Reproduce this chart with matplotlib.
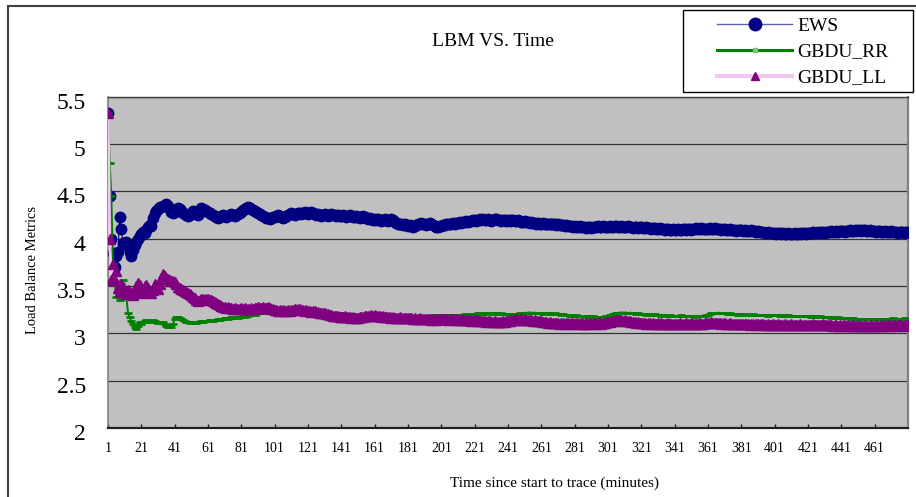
import matplotlib
matplotlib.use("Agg")
import matplotlib.pyplot as plt
from matplotlib.lines import Line2D
from matplotlib.patches import Rectangle
import matplotlib.transforms as mtransforms
import numpy as np

plt.rcParams['font.family'] = ['Liberation Serif', 'DejaVu Serif']

title = "LBM VS. Time"
x_label = "Time since start to trace (minutes)"
y_label = "Load Balance Metrics"
series_names = ["EWS", "GBDU_RR", "GBDU_LL"]
x_tick_labels = list(range(1, 481, 20))
y_ticks = [2, 2.5, 3, 3.5, 4, 4.5, 5, 5.5]
y_tick_labels = ["2", "2.5", "3", "3.5", "4", "4.5", "5", "5.5"]

ews = [
    5.33, 4.45, 4.00, 3.85, 3.70, 3.82, 3.86, 4.23, 4.10, 3.95, 3.95, 3.97, 3.92, 3.86, 3.82, 3.88, 3.93, 3.97, 4.00, 4.03,
    4.05, 4.07, 4.06, 4.09, 4.12, 4.14, 4.13, 4.22, 4.27, 4.29, 4.31, 4.33, 4.34, 4.35, 4.36, 4.37, 4.35, 4.31, 4.28, 4.27,
    4.28, 4.30, 4.32, 4.31, 4.29, 4.27, 4.26, 4.25, 4.24, 4.25, 4.27, 4.29, 4.28, 4.26, 4.25, 4.29, 4.32, 4.31, 4.30, 4.29,
    4.28, 4.27, 4.26, 4.25, 4.24, 4.23, 4.22, 4.23, 4.24, 4.25, 4.24, 4.23, 4.24, 4.25, 4.26, 4.25, 4.24, 4.25, 4.26, 4.27,
    4.28, 4.30, 4.31, 4.32, 4.33, 4.32, 4.31, 4.30, 4.29, 4.28, 4.27, 4.26, 4.25, 4.24, 4.23, 4.22, 4.22, 4.21, 4.22, 4.23,
    4.23, 4.24, 4.25, 4.24, 4.23, 4.22, 4.23, 4.24, 4.25, 4.26, 4.27, 4.26, 4.25, 4.26, 4.27, 4.27, 4.26, 4.27, 4.28, 4.27,
    4.26, 4.27, 4.28, 4.27, 4.26, 4.25, 4.26, 4.25, 4.24, 4.25, 4.26, 4.25, 4.24, 4.25, 4.26, 4.25, 4.25, 4.24, 4.25, 4.24,
    4.24, 4.25, 4.24, 4.23, 4.24, 4.25, 4.24, 4.23, 4.23, 4.24, 4.23, 4.22, 4.23, 4.24, 4.23, 4.22, 4.21, 4.22, 4.21, 4.20,
    4.21, 4.20, 4.21, 4.20, 4.19, 4.20, 4.21, 4.20, 4.19, 4.20, 4.21, 4.20, 4.18, 4.17, 4.16, 4.15, 4.15, 4.14, 4.15, 4.14,
    4.13, 4.14, 4.13, 4.12, 4.13, 4.14, 4.15, 4.16, 4.17, 4.16, 4.15, 4.14, 4.15, 4.17, 4.16, 4.14, 4.13, 4.12, 4.12, 4.13,
    4.13, 4.14, 4.14, 4.15, 4.15, 4.16, 4.16, 4.17, 4.16, 4.17, 4.17, 4.18, 4.17, 4.18, 4.18, 4.19, 4.18, 4.19, 4.19, 4.20,
    4.20, 4.19, 4.20, 4.21, 4.20, 4.21, 4.20, 4.20, 4.21, 4.20, 4.19, 4.20, 4.21, 4.21, 4.20, 4.20, 4.19, 4.20, 4.20, 4.19,
    4.20, 4.19, 4.20, 4.20, 4.19, 4.19, 4.20, 4.19, 4.18, 4.18, 4.19, 4.18, 4.18, 4.17, 4.18, 4.17, 4.17, 4.16, 4.17, 4.16,
    4.16, 4.17, 4.16, 4.16, 4.15, 4.16, 4.15, 4.15, 4.15, 4.14, 4.15, 4.14, 4.14, 4.14, 4.13, 4.14, 4.13, 4.13, 4.13, 4.12,
    4.13, 4.12, 4.12, 4.13, 4.12, 4.12, 4.12, 4.11, 4.12, 4.12, 4.11, 4.12, 4.12, 4.12, 4.13, 4.12, 4.12, 4.13, 4.12, 4.12,
    4.12, 4.13, 4.12, 4.12, 4.13, 4.13, 4.12, 4.12, 4.13, 4.12, 4.12, 4.12, 4.13, 4.12, 4.12, 4.11, 4.12, 4.12, 4.11, 4.12,
    4.12, 4.11, 4.11, 4.12, 4.11, 4.11, 4.10, 4.11, 4.11, 4.10, 4.10, 4.11, 4.10, 4.10, 4.09, 4.10, 4.10, 4.09, 4.09, 4.10,
    4.09, 4.09, 4.10, 4.09, 4.09, 4.10, 4.10, 4.09, 4.10, 4.10, 4.09, 4.10, 4.10, 4.11, 4.10, 4.10, 4.11, 4.10, 4.10, 4.10,
    4.10, 4.11, 4.10, 4.10, 4.11, 4.10, 4.10, 4.10, 4.09, 4.10, 4.10, 4.09, 4.09, 4.10, 4.09, 4.09, 4.09, 4.08, 4.09, 4.09,
    4.09, 4.08, 4.09, 4.08, 4.08, 4.08, 4.09, 4.08, 4.08, 4.07, 4.08, 4.07, 4.07, 4.07, 4.06, 4.06, 4.07, 4.06, 4.06, 4.06,
    4.06, 4.05, 4.06, 4.06, 4.05, 4.06, 4.05, 4.05, 4.06, 4.05, 4.05, 4.05, 4.06, 4.05, 4.05, 4.06, 4.05, 4.06, 4.06, 4.05,
    4.06, 4.06, 4.06, 4.07, 4.06, 4.06, 4.07, 4.06, 4.07, 4.07, 4.06, 4.07, 4.07, 4.07, 4.08, 4.07, 4.07, 4.08, 4.07, 4.08,
    4.08, 4.08, 4.07, 4.08, 4.08, 4.09, 4.08, 4.08, 4.09, 4.08, 4.09, 4.09, 4.08, 4.09, 4.09, 4.08, 4.08, 4.09, 4.08, 4.08,
    4.08, 4.07, 4.08, 4.08, 4.07, 4.07, 4.08, 4.07, 4.07, 4.07, 4.08, 4.07, 4.07, 4.07, 4.06, 4.07, 4.07, 4.07, 4.06, 4.07,
    4.07,
]

gbdu_rr = [
    5.33, 4.80, 4.45, 3.73, 3.55, 3.38, 3.45, 3.35, 3.52, 3.56, 3.45, 3.38, 3.22, 3.17, 3.13, 3.10, 3.07, 3.05, 3.08, 3.12,
    3.10, 3.12, 3.13, 3.14, 3.13, 3.12, 3.13, 3.14, 3.13, 3.12, 3.11, 3.12, 3.11, 3.12, 3.10, 3.08, 3.07, 3.08, 3.07, 3.10,
    3.15, 3.17, 3.17, 3.16, 3.15, 3.14, 3.13, 3.12, 3.12, 3.11, 3.12, 3.12, 3.11, 3.11, 3.12, 3.12, 3.13, 3.12, 3.13, 3.13,
    3.13, 3.14, 3.14, 3.13, 3.14, 3.14, 3.15, 3.14, 3.15, 3.15, 3.16, 3.16, 3.15, 3.16, 3.17, 3.16, 3.17, 3.17, 3.16, 3.17,
    3.17, 3.18, 3.17, 3.18, 3.18, 3.19, 3.19, 3.20, 3.19, 3.20, 3.21, 3.21, 3.22, 3.22, 3.21, 3.22, 3.22, 3.23, 3.22, 3.23,
    3.23, 3.23, 3.24, 3.23, 3.24, 3.24, 3.23, 3.24, 3.24, 3.23, 3.23, 3.24, 3.23, 3.23, 3.22, 3.23, 3.23, 3.22, 3.22, 3.23,
    3.22, 3.22, 3.21, 3.22, 3.22, 3.21, 3.21, 3.22, 3.21, 3.21, 3.20, 3.21, 3.21, 3.20, 3.20, 3.21, 3.20, 3.20, 3.20, 3.21,
    3.20, 3.20, 3.19, 3.20, 3.20, 3.19, 3.19, 3.20, 3.19, 3.19, 3.18, 3.19, 3.19, 3.18, 3.18, 3.19, 3.18, 3.18, 3.18, 3.19,
    3.18, 3.18, 3.19, 3.18, 3.18, 3.18, 3.17, 3.18, 3.18, 3.17, 3.18, 3.18, 3.17, 3.17, 3.18, 3.17, 3.17, 3.18, 3.17, 3.17,
    3.17, 3.17, 3.17, 3.18, 3.17, 3.17, 3.17, 3.18, 3.17, 3.17, 3.17, 3.18, 3.18, 3.18, 3.18, 3.19, 3.18, 3.19, 3.19, 3.19,
    3.19, 3.19, 3.19, 3.18, 3.19, 3.19, 3.19, 3.18, 3.19, 3.19, 3.18, 3.19, 3.19, 3.19, 3.20, 3.19, 3.20, 3.20, 3.20, 3.20,
    3.20, 3.20, 3.21, 3.20, 3.21, 3.21, 3.20, 3.21, 3.21, 3.21, 3.21, 3.20, 3.21, 3.21, 3.20, 3.20, 3.21, 3.20, 3.20, 3.20,
    3.20, 3.20, 3.19, 3.20, 3.20, 3.20, 3.20, 3.21, 3.21, 3.21, 3.22, 3.21, 3.22, 3.22, 3.22, 3.21, 3.22, 3.21, 3.21, 3.21,
    3.21, 3.20, 3.21, 3.20, 3.21, 3.21, 3.20, 3.20, 3.21, 3.20, 3.20, 3.20, 3.19, 3.20, 3.19, 3.19, 3.19, 3.18, 3.19, 3.19,
    3.18, 3.19, 3.18, 3.18, 3.18, 3.18, 3.17, 3.18, 3.18, 3.17, 3.17, 3.18, 3.17, 3.17, 3.17, 3.17, 3.17, 3.17, 3.17, 3.18,
    3.18, 3.19, 3.19, 3.20, 3.20, 3.21, 3.21, 3.22, 3.22, 3.22, 3.22, 3.22, 3.21, 3.22, 3.21, 3.21, 3.21, 3.20, 3.21, 3.20,
    3.20, 3.20, 3.20, 3.19, 3.20, 3.19, 3.19, 3.19, 3.20, 3.19, 3.19, 3.19, 3.18, 3.19, 3.19, 3.18, 3.18, 3.19, 3.18, 3.18,
    3.18, 3.18, 3.18, 3.18, 3.19, 3.18, 3.18, 3.18, 3.18, 3.18, 3.18, 3.18, 3.17, 3.18, 3.18, 3.18, 3.18, 3.18, 3.18, 3.19,
    3.19, 3.20, 3.21, 3.21, 3.21, 3.21, 3.22, 3.21, 3.21, 3.21, 3.21, 3.21, 3.20, 3.21, 3.20, 3.20, 3.20, 3.20, 3.19, 3.20,
    3.20, 3.19, 3.20, 3.19, 3.19, 3.19, 3.19, 3.20, 3.19, 3.19, 3.19, 3.19, 3.19, 3.19, 3.19, 3.19, 3.18, 3.19, 3.19, 3.19,
    3.19, 3.19, 3.19, 3.18, 3.19, 3.19, 3.18, 3.18, 3.19, 3.18, 3.18, 3.18, 3.18, 3.18, 3.18, 3.18, 3.18, 3.18, 3.18, 3.18,
    3.18, 3.18, 3.17, 3.18, 3.18, 3.17, 3.17, 3.18, 3.17, 3.17, 3.17, 3.17, 3.17, 3.17, 3.16, 3.17, 3.17, 3.16, 3.17, 3.16,
    3.16, 3.16, 3.16, 3.16, 3.16, 3.16, 3.15, 3.16, 3.15, 3.15, 3.15, 3.15, 3.15, 3.15, 3.15, 3.15, 3.15, 3.15, 3.15, 3.15,
    3.15, 3.15, 3.15, 3.15, 3.15, 3.15, 3.15, 3.15, 3.15, 3.15, 3.15, 3.16, 3.15, 3.15, 3.15, 3.15, 3.15, 3.15, 3.16, 3.15,
    3.15,
]

gbdu_ll = [
    5.33, 4.00, 3.56, 3.73, 3.56, 3.66, 3.48, 3.44, 3.52, 3.49, 3.44, 3.42, 3.46, 3.44, 3.42, 3.41, 3.45, 3.50, 3.53, 3.51,
    3.43, 3.45, 3.50, 3.51, 3.48, 3.44, 3.43, 3.46, 3.52, 3.50, 3.47, 3.52, 3.58, 3.63, 3.61, 3.58, 3.57, 3.56, 3.55, 3.55,
    3.54, 3.52, 3.49, 3.48, 3.47, 3.46, 3.45, 3.44, 3.43, 3.42, 3.40, 3.38, 3.37, 3.35, 3.34, 3.35, 3.36, 3.36, 3.35, 3.36,
    3.36, 3.35, 3.35, 3.34, 3.33, 3.32, 3.31, 3.30, 3.29, 3.28, 3.28, 3.27, 3.28, 3.27, 3.27, 3.26, 3.27, 3.26, 3.26, 3.26,
    3.27, 3.26, 3.27, 3.26, 3.26, 3.26, 3.27, 3.26, 3.27, 3.27, 3.28, 3.27, 3.27, 3.28, 3.27, 3.27, 3.28, 3.27, 3.26, 3.26,
    3.25, 3.25, 3.24, 3.25, 3.24, 3.25, 3.24, 3.24, 3.25, 3.24, 3.25, 3.25, 3.26, 3.25, 3.26, 3.26, 3.25, 3.25, 3.24, 3.25,
    3.24, 3.24, 3.23, 3.24, 3.24, 3.23, 3.23, 3.22, 3.22, 3.21, 3.21, 3.20, 3.20, 3.19, 3.19, 3.18, 3.18, 3.18, 3.18, 3.17,
    3.17, 3.17, 3.18, 3.17, 3.17, 3.17, 3.16, 3.17, 3.16, 3.16, 3.16, 3.17, 3.17, 3.17, 3.18, 3.18, 3.18, 3.18, 3.19, 3.18,
    3.19, 3.18, 3.18, 3.18, 3.17, 3.18, 3.17, 3.17, 3.17, 3.17, 3.16, 3.17, 3.16, 3.16, 3.16, 3.17, 3.16, 3.16, 3.16, 3.16,
    3.16, 3.16, 3.16, 3.15, 3.16, 3.15, 3.15, 3.16, 3.15, 3.15, 3.15, 3.15, 3.15, 3.15, 3.14, 3.15, 3.15, 3.14, 3.15, 3.15,
    3.15, 3.15, 3.15, 3.15, 3.14, 3.15, 3.15, 3.15, 3.14, 3.15, 3.14, 3.14, 3.15, 3.14, 3.14, 3.14, 3.14, 3.14, 3.13, 3.14,
    3.14, 3.13, 3.14, 3.13, 3.13, 3.13, 3.13, 3.12, 3.13, 3.13, 3.12, 3.12, 3.13, 3.12, 3.12, 3.12, 3.12, 3.13, 3.12, 3.13,
    3.13, 3.13, 3.14, 3.14, 3.14, 3.15, 3.14, 3.15, 3.15, 3.14, 3.15, 3.14, 3.14, 3.14, 3.14, 3.13, 3.14, 3.13, 3.13, 3.13,
    3.13, 3.12, 3.12, 3.12, 3.11, 3.12, 3.11, 3.11, 3.11, 3.11, 3.11, 3.10, 3.11, 3.11, 3.10, 3.11, 3.11, 3.10, 3.11, 3.11,
    3.10, 3.11, 3.11, 3.10, 3.11, 3.10, 3.10, 3.11, 3.10, 3.11, 3.10, 3.11, 3.11, 3.10, 3.11, 3.11, 3.10, 3.11, 3.11, 3.12,
    3.12, 3.12, 3.13, 3.13, 3.13, 3.14, 3.14, 3.14, 3.14, 3.13, 3.14, 3.13, 3.13, 3.13, 3.12, 3.12, 3.12, 3.11, 3.12, 3.11,
    3.11, 3.11, 3.11, 3.10, 3.11, 3.11, 3.10, 3.11, 3.10, 3.10, 3.11, 3.10, 3.11, 3.10, 3.10, 3.10, 3.11, 3.10, 3.10, 3.10,
    3.10, 3.10, 3.10, 3.11, 3.10, 3.10, 3.10, 3.11, 3.10, 3.10, 3.11, 3.10, 3.10, 3.10, 3.10, 3.11, 3.10, 3.10, 3.11, 3.11,
    3.11, 3.11, 3.12, 3.11, 3.11, 3.11, 3.11, 3.11, 3.10, 3.11, 3.11, 3.10, 3.10, 3.11, 3.10, 3.10, 3.10, 3.10, 3.10, 3.10,
    3.10, 3.10, 3.10, 3.10, 3.10, 3.09, 3.10, 3.10, 3.09, 3.10, 3.10, 3.09, 3.10, 3.10, 3.09, 3.09, 3.10, 3.09, 3.09, 3.10,
    3.09, 3.09, 3.10, 3.09, 3.09, 3.09, 3.10, 3.09, 3.09, 3.09, 3.10, 3.09, 3.09, 3.09, 3.09, 3.10, 3.09, 3.09, 3.09, 3.09,
    3.09, 3.09, 3.09, 3.10, 3.09, 3.09, 3.09, 3.09, 3.09, 3.10, 3.09, 3.09, 3.09, 3.09, 3.09, 3.08, 3.09, 3.09, 3.08, 3.09,
    3.08, 3.09, 3.09, 3.08, 3.09, 3.08, 3.08, 3.09, 3.08, 3.08, 3.09, 3.08, 3.08, 3.08, 3.09, 3.08, 3.08, 3.08, 3.09, 3.08,
    3.08, 3.09, 3.08, 3.08, 3.09, 3.08, 3.09, 3.08, 3.09, 3.09, 3.08, 3.09, 3.09, 3.08, 3.09, 3.09, 3.09, 3.08, 3.09, 3.09,
    3.09,
]

W, H = 916, 497
fig = plt.figure(figsize=(W / 100, H / 100), dpi=100)
fig.patch.set_facecolor("white")

ax = fig.add_axes([108 / W, 1 - 428 / H, (908 - 108) / W, (428 - 96.7) / H])
ax.set_facecolor("#c0c0c0")

x_ews = np.arange(1, len(ews) + 1)
x_rr = np.arange(1, len(gbdu_rr) + 1)
x_ll = np.arange(1, len(gbdu_ll) + 1)

l1, = ax.plot(x_ews, ews, color="#000080", lw=0.8, marker="o", markersize=7.5,
              markerfacecolor="#000080", markeredgecolor="#000080", zorder=3)
l2, = ax.plot(x_rr, gbdu_rr, color="#008000", lw=1.4, marker="_", markersize=5.5,
              markeredgewidth=2, markeredgecolor="#008000", zorder=4)
l3, = ax.plot(x_ll, gbdu_ll, color="#f2c8f2", lw=2.2, marker="^", markersize=6.8,
              markerfacecolor="#800080", markeredgecolor="#800080", zorder=5)

ax.set_xlim(1, len(ews))
ax.set_ylim(2, 5.5)
ax.set_yticks(y_ticks)
ax.set_yticklabels(y_tick_labels, fontsize=17)
ax.set_xticks(x_tick_labels)
ax.set_xticklabels([str(v) for v in x_tick_labels], fontsize=10)
ax.tick_params(axis="y", length=0, pad=16)
ax.tick_params(axis="x", direction="in", length=3, width=1, color="#202020", pad=10)
ax.yaxis.grid(True, color="#333333", lw=0.9)
ax.set_axisbelow(True)

offset = mtransforms.ScaledTranslation(0, -4 / 100, fig.dpi_scale_trans)
for lab in ax.get_yticklabels():
    lab.set_transform(lab.get_transform() + offset)

ax.spines["bottom"].set_color("#202020")
ax.spines["bottom"].set_linewidth(1.6)
ax.spines["left"].set_color("#808080")
ax.spines["left"].set_linewidth(1.2)
ax.spines["right"].set_color("#808080")
ax.spines["right"].set_linewidth(1.6)
ax.spines["top"].set_color("#404040")
ax.spines["top"].set_linewidth(1.0)

# outer chart frame (top and left)
fig.add_artist(Line2D([8 / W, 8 / W], [0, 1 - 6 / H], transform=fig.transFigure,
                      color="#404040", lw=1.5))
fig.add_artist(Line2D([8 / W, 1], [1 - 6 / H, 1 - 6 / H], transform=fig.transFigure,
                      color="#404040", lw=1.5))

fig.text(493 / W, 1 - 42 / H, title, ha="center", va="center", fontsize=14)
fig.text(555 / W, 1 - 483 / H, x_label, ha="center", va="center", fontsize=11)
fig.text(33 / W, 1 - 270 / H, y_label, ha="center", va="center", fontsize=10.5, rotation=90)

# legend box
fig.add_artist(Rectangle((683 / W, 1 - 92 / H), (913 - 683) / W, (92 - 10) / H,
                         transform=fig.transFigure, facecolor="white",
                         edgecolor="black", lw=1.0, zorder=5))
h1 = Line2D([], [], color="#6060b0", lw=1.0, marker="o", markersize=9,
            markerfacecolor="#000080", markeredgecolor="#000080")
h2 = Line2D([], [], color="#008000", lw=2.2, marker="s", markersize=3,
            markerfacecolor="#80c080", markeredgecolor="#80c080")
h3 = Line2D([], [], color="#f2c8f2", lw=3, marker="^", markersize=6,
            markerfacecolor="#800080", markeredgecolor="#800080")
leg = fig.legend([h1, h2, h3], series_names, loc="upper left",
                 bbox_to_anchor=(717 / W, 1 - 17 / H), frameon=False,
                 fontsize=14, handlelength=3.86, handletextpad=0.26,
                 labelspacing=0.43, borderpad=0, borderaxespad=0)
leg.set_zorder(6)

fig.savefig("out.png", dpi=100, facecolor="white")
